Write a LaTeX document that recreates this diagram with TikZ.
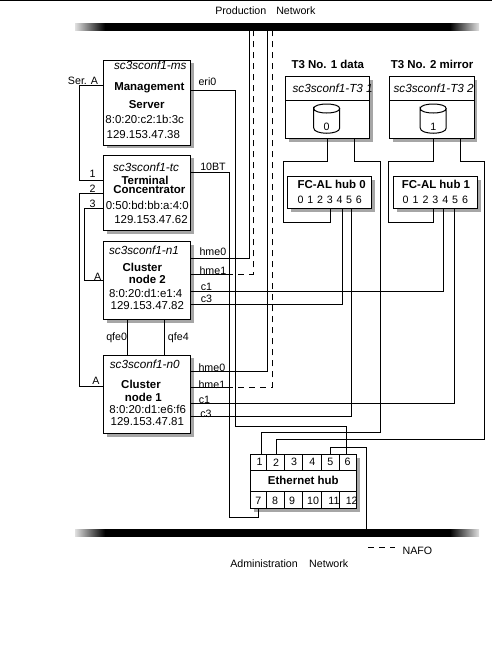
\documentclass[tikz,border=0pt]{standalone}
\usepackage{fontspec}
\setmainfont{Liberation Sans}
\usetikzlibrary{shapes,shadows,positioning}
\pgfdeclarehorizontalshading{netfade}{100bp}{color(0bp)=(black!12); color(25bp)=(black!12); color(28.7bp)=(black); color(71.4bp)=(black); color(75bp)=(black!12); color(100bp)=(black!12)}

\begin{document}
\begin{tikzpicture}[
    x=0.75pt, y=-0.75pt,
    node distance=8pt and 15pt,
    box/.style={rectangle, draw=black, fill=white, line width=0.75pt, outer sep=0pt, inner sep=0pt,
                drop shadow={shadow xshift=2.4pt, shadow yshift=-2.4pt, fill=black!35, opacity=1}},
    server/.style={box, minimum width=65.5pt},
    array/.style={box, minimum width=63.2pt, minimum height=46.2pt},
    fchub/.style={box, minimum width=62.8pt, minimum height=24.5pt},
    netbar/.style={rectangle, shade, shading=netfade, minimum width=303pt, minimum height=5.6pt, inner sep=0pt, outer sep=0pt},
    lab/.style={inner sep=0pt, font=\fontsize{8}{9}\selectfont},
    addr/.style={inner sep=0pt, font=\fontsize{8.6}{9}\selectfont},
    host/.style={inner sep=0pt, font=\fontsize{8.8}{9}\selectfont\itshape},
    boldlab/.style={inner sep=0pt, font=\fontsize{8.6}{9}\selectfont\bfseries},
    link/.style={line width=0.75pt, black},
    nafo/.style={link, dash pattern=on 4.5pt off 3.75pt}
]
    \useasboundingbox (0,0) rectangle (492,650);

    \coordinate (edgea) at (0,0.5);
    \coordinate (edgeb) at (492,0.5);
    \draw[link] (edgea) -- (edgeb);

    \node[netbar] (prodnet) at (277,27) {};
    \node[netbar, minimum height=5.25pt] (adminnet) at (277,532.5) {};
    \node[lab, anchor=west] (prodlab) at (215,10.3) {Production\hspace{7.5pt}Network};
    \node[lab, anchor=west] (adminlab) at (230,563.3) {Administration\hspace{8.5pt}Network};

    % hosts
    \node[server, minimum height=63.75pt] (ms) at (147,102.5) {};
    \node[server, minimum height=56.5pt, below=7.6pt of ms] (tc) {};
    \node[server, minimum height=58.5pt, below=8.3pt of tc] (nodetwo) {};
    \node[server, minimum height=58.7pt, below=26.8pt of nodetwo] (nodeone) {};

    \node[host] (msname) at (150.3,65.7) {sc3sconf1-ms};
    \node[boldlab] (mstexta) at (149.3,88) {Management};
    \node[boldlab] (mstextb) at (146.7,104.3) {Server};
    \node[addr] (msmac) at (144.7,119.7) {8:0:20:c2:1b:3c};
    \node[addr] (msip) at (143.3,135) {129.153.47.38};

    \node[host] (tcname) at (146,167.3) {sc3sconf1-tc};
    \node[boldlab] (tctexta) at (145,180.8) {Terminal};
    \node[boldlab] (tctextb) at (149.3,189.8) {Concentrator};
    \node[addr] (tcmac) at (147.3,205) {0:50:bd:bb:a:4:0};
    \node[addr] (tcip) at (151,220) {129.153.47.62};

    \node[host] (ntwoname) at (144,250.7) {sc3sconf1-n1};
    \node[boldlab] (ntwotexta) at (142.3,267.3) {Cluster};
    \node[boldlab] (ntwotextb) at (147.3,279.3) {node 2};
    \node[addr] (ntwomac) at (145.7,293.3) {8:0:20:d1:e1:4};
    \node[addr] (ntwoip) at (147.3,305.3) {129.153.47.82};

    \node[host] (nonename) at (144.7,364.3) {sc3sconf1-n0};
    \node[boldlab] (nonetexta) at (141,384) {Cluster};
    \node[boldlab] (nonetextb) at (143.3,397) {node 1};
    \node[addr] (nonemac) at (147.7,409.3) {8:0:20:d1:e6:f6};
    \node[addr] (noneip) at (147.3,421.3) {129.153.47.81};

    % storage
    \node[array] (tthreea) at (327.85,107.5) {};
    \node[array, right=15pt of tthreea] (tthreeb) {};
    \draw[link] (tthreea.west |- 0,100.7) -- (tthreea.east |- 0,100.7);
    \draw[link] (tthreeb.west |- 0,100.7) -- (tthreeb.east |- 0,100.7);
    \node[boldlab, above=5.5pt of tthreea] (titlea) {T3 No. 1 data};
    \node[boldlab, above=5.5pt of tthreeb] (titleb) {T3 No. 2 mirror};
    \node[host, anchor=west] (tthreeaname) at (292.3,88.7) {sc3sconf1-T3 1};
    \node[host, anchor=west] (tthreebname) at (393.3,88.7) {sc3sconf1-T3 2};
    \foreach \c in {326.7,433.2} {
        \draw[link] ({\c-13},108.5) .. controls ({\c-13},102.5) and ({\c+13},102.5) .. ({\c+13},108.5)
            .. controls ({\c+13},114.5) and ({\c-13},114.5) .. ({\c-13},108.5) -- ({\c-13},128)
            .. controls ({\c-13},135) and ({\c+13},135) .. ({\c+13},128) -- ({\c+13},108.5);
    }
    \node[lab] (diskalab) at (326.7,126.7) {0};
    \node[lab] (diskblab) at (433.3,126.7) {1};

    \node[fchub] (hubzero) at (329.85,192.65) {};
    \node[fchub, right=16.5pt of hubzero] (hubone) {};
    \node[boldlab] (hubzerolab) at (331.7,184) {FC-AL hub 0};
    \node[boldlab] (hubonelab) at (436,184) {FC-AL hub 1};
    \foreach \i in {0,...,6} {
        \node[lab] (hubzerop\i) at ({300.7+9.7*\i},200) {\i};
        \node[lab] (hubonep\i) at ({405.7+9.9*\i},200) {\i};
    }

    % ethernet hub
    \node[box, minimum width=79.5pt, minimum height=40.5pt] (ethhub) at (303.7,481.3) {};
    \draw[link] (ethhub.west |- 0,470.7) -- (ethhub.east |- 0,470.7);
    \draw[link] (ethhub.west |- 0,491.3) -- (ethhub.east |- 0,491.3);
    \foreach \x in {266.7,284.7,302.7,321.7,339.3} {
        \draw[link] (ethhub.north -| \x,0) -- (\x,470.7);
        \draw[link] (ethhub.south -| \x,0) -- (\x,491.3);
    }
    \node[boldlab] (ethlab) at (303.3,480.3) {Ethernet hub};
    \foreach \n/\x in {1/259.7,2/276,3/294,4/312.3,5/330.3,6/347.7} {
        \node[lab] (port\n) at (\x,462.3) {\n};
    }
    \foreach \n/\x in {7/258.3,8/275,9/292,10/313,11/334,12/351.7} {
        \node[lab] (port\n) at (\x,501) {\n};
    }

    % serial lines
    \draw[link] (ms.west |- 0,85.7) -| (79.3,180) -- (tc.west |- 0,180);
    \draw[link] (tc.west |- 0,193) -| (79.3,386) -- (nodeone.west |- 0,386);
    \draw[link] (tc.west |- 0,208.3) -| (84.7,280.7) -- (nodetwo.west |- 0,280.7);
    \node[lab] (serlab) at (83,80.5) {Ser. A};
    \node[lab] (serone) at (92.7,174) {1};
    \node[lab] (sertwo) at (92.7,189) {2};
    \node[lab] (serthree) at (92.7,203.5) {3};
    \node[lab] (aone) at (97.7,276.7) {A};
    \node[lab] (atwo) at (96,381) {A};

    % ethernet
    \draw[link] (ms.east |- 0,90.3) -| (235.7,426.7) -| (ethhub.north -| 346.7,0);
    \draw[link] (tc.east |- 0,172.3) -| (229.7,517.3) -| (ethhub.south -| 258.3,0);
    \node[lab, anchor=west] (erilab) at (198.3,81.7) {eri0};
    \node[lab, anchor=west] (btlab) at (200,166.7) {10BT};

    % public network
    \coordinate (stubtwo) at (227,274);
    \coordinate (stubone) at (227,387);
    \draw[link] (nodetwo.east |- 0,258.3) -| (prodnet.south -| 249.3,0);
    \draw[link] (nodetwo.east |- 0,274) -- (stubtwo);
    \draw[nafo] (stubtwo) -| (prodnet.south -| 253.3,0);
    \draw[link] (nodeone.east |- 0,371.3) -| (prodnet.south -| 267.7,0);
    \draw[link] (nodeone.east |- 0,387) -- (stubone);
    \draw[nafo] (stubone) -| (prodnet.south -| 272.3,0);
    \node[lab, anchor=west] (hmeza) at (199.3,251.3) {hme0};
    \node[lab, anchor=west] (hmeoa) at (199.3,270.7) {hme1};
    \node[lab, anchor=west] (hmezb) at (198.3,367.3) {hme0};
    \node[lab, anchor=west] (hmeob) at (198.3,384.3) {hme1};

    % private interconnect
    \draw[link] (nodetwo.south -| 127.7,0) -- (nodeone.north -| 127.7,0);
    \draw[link] (nodetwo.south -| 164.3,0) -- (nodeone.north -| 164.3,0);
    \node[lab, anchor=east] (qfezero) at (127.3,337.7) {qfe0};
    \node[lab, anchor=west] (qfefour) at (167.7,337.7) {qfe4};

    % fibre
    \draw[link] (nodetwo.east |- 0,291.3) -| (hubone.south -| 443.5,0);
    \draw[link] (nodetwo.east |- 0,304) -| (hubzero.south -| 342.3,0);
    \draw[link] (nodeone.east |- 0,403.3) -| (hubone.south -| 454.3,0);
    \draw[link] (nodeone.east |- 0,416) -| (hubzero.south -| 351.5,0);
    \node[lab, anchor=west] (cotwo) at (200.5,286.7) {c1};
    \node[lab, anchor=west] (cttwo) at (200.5,299.3) {c3};
    \node[lab, anchor=west] (coone) at (198.5,400) {c1};
    \node[lab, anchor=west] (ctone) at (200,413.7) {c3};

    \draw[link] (tthreea.south -| 327.7,0) |- (283.3,161.3) |- (330.7,222) -- (hubzero.south -| 330.7,0);
    \draw[link] (tthreeb.south -| 433.7,0) |- (388.7,161.3) |- (433.7,222) -- (hubone.south -| 433.7,0);
    \draw[link] (tthreea.south -| 354.7,0) |- (380.5,161.3) |- (261.5,432.3) -- (ethhub.north -| 261.5,0);
    \draw[link] (tthreeb.south -| 460.3,0) |- (484.3,161.3) |- (276.3,439.3) -- (ethhub.north -| 276.3,0);
    \draw[link] (ethhub.north -| 330,0) |- (366.3,447.7) -- (adminnet.north -| 366.3,0);

    % legend
    \coordinate (nafoa) at (368.3,547.7);
    \coordinate (nafob) at (395,547.7);
    \draw[nafo] (nafoa) -- (nafob);
    \node[lab, anchor=west] (nafolab) at (402.3,551) {NAFO};
\end{tikzpicture}
\end{document}
